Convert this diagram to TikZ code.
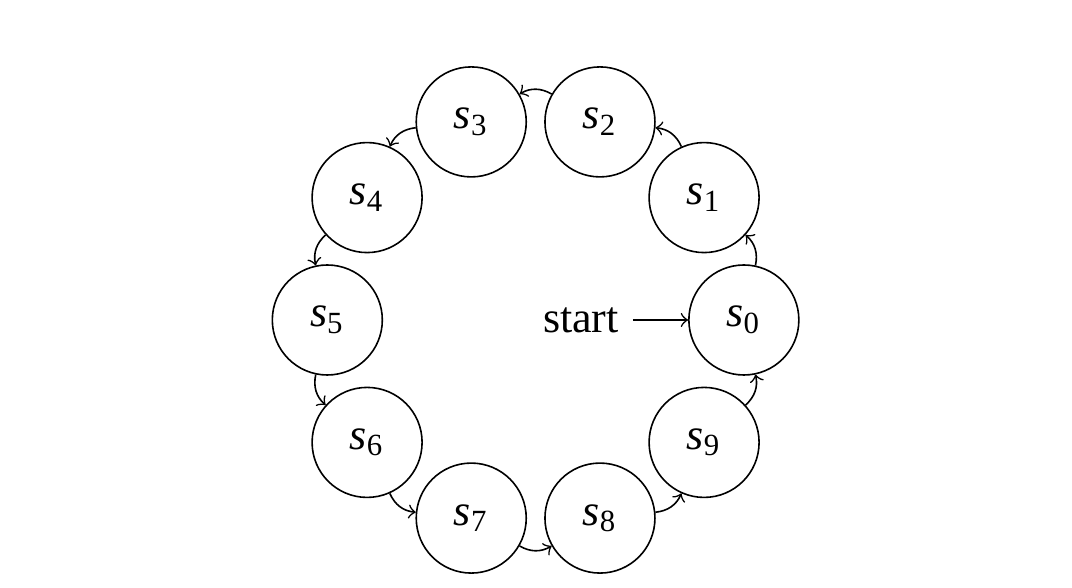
\documentclass[tikz,border=0pt]{standalone}
\usepackage{fontspec}
\setmainfont{Liberation Serif}
\usetikzlibrary{automata}

\begin{document}
\begin{tikzpicture}[->, font=\fontsize{11}{13}\selectfont,
  every state/.style={draw, thin, minimum size=27.5pt, inner sep=0pt},
  initial text=start]
  \useasboundingbox (-133.9pt,-67pt) rectangle (134.1pt,80pt);
  \node[state, initial] (s0) at (0:1.83cm) {$\mathit{s}_\mathrm{0}$};
  \node[state] (s1) at (36:1.83cm) {$\mathit{s}_\mathrm{1}$};
  \node[state] (s2) at (72:1.83cm) {$\mathit{s}_\mathrm{2}$};
  \node[state] (s3) at (108:1.83cm) {$\mathit{s}_\mathrm{3}$};
  \node[state] (s4) at (144:1.83cm) {$\mathit{s}_\mathrm{4}$};
  \node[state] (s5) at (180:1.83cm) {$\mathit{s}_\mathrm{5}$};
  \node[state] (s6) at (216:1.83cm) {$\mathit{s}_\mathrm{6}$};
  \node[state] (s7) at (252:1.83cm) {$\mathit{s}_\mathrm{7}$};
  \node[state] (s8) at (288:1.83cm) {$\mathit{s}_\mathrm{8}$};
  \node[state] (s9) at (324:1.83cm) {$\mathit{s}_\mathrm{9}$};
  \draw (s0) edge[bend right] (s1);
  \draw (s1) edge[bend right] (s2);
  \draw (s2) edge[bend right] (s3);
  \draw (s3) edge[bend right] (s4);
  \draw (s4) edge[bend right] (s5);
  \draw (s5) edge[bend right] (s6);
  \draw (s6) edge[bend right] (s7);
  \draw (s7) edge[bend right] (s8);
  \draw (s8) edge[bend right] (s9);
  \draw (s9) edge[bend right] (s0);
\end{tikzpicture}
\end{document}
